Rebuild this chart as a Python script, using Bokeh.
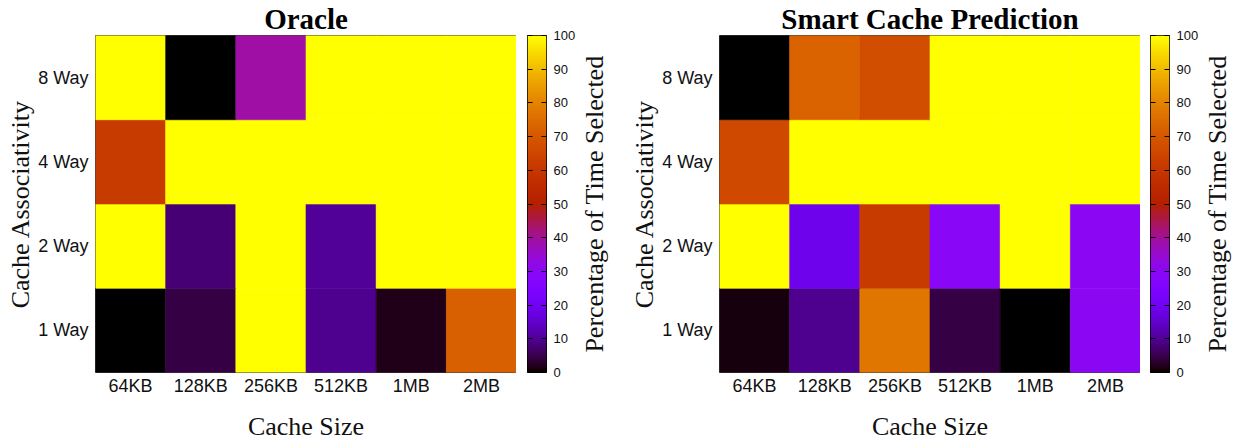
import numpy as np
from bokeh.plotting import figure
from bokeh.models import (FactorRange, Range1d, LinearColorMapper, FixedTicker,
                          LinearAxis, ColumnDataSource, Title)
from bokeh.layouts import row
from bokeh.embed import file_html
from bokeh.resources import INLINE

# ---------------- data ----------------
cache_sizes = ["64KB", "128KB", "256KB", "512KB", "1MB", "2MB"]
associativities = ["1 Way", "2 Way", "4 Way", "8 Way"]

oracle_1way = [0, 4.5, 100, 9.5, 1.8, 72]
oracle_2way = [100, 7.5, 100, 10.5, 100, 100]
oracle_4way = [61, 100, 100, 100, 100, 100]
oracle_8way = [100, 0, 39, 100, 100, 100]

smart_1way = [0.9, 9.5, 77, 4.5, 0, 30]
smart_2way = [100, 19, 61, 29, 100, 30]
smart_4way = [66, 100, 100, 100, 100, 100]
smart_8way = [0, 73, 67, 100, 100, 100]

colorbar_ticks = [0, 10, 20, 30, 40, 50, 60, 70, 80, 90, 100]

titles = ["Oracle", "Smart Cache Prediction"]
x_title = "Cache Size"
y_title = "Cache Associativity"
cb_title = "Percentage of Time Selected"

# ---------------- palette (gnuplot rgbformulae 7,5,15) ----------------
def gnuplot_hex(t):
    r = np.sqrt(t)
    g = t ** 3
    b = min(1.0, max(0.0, np.sin(2 * np.pi * t)))
    return "#%02x%02x%02x" % (int(round(r * 255)), int(round(g * 255)), int(round(b * 255)))

palette = [gnuplot_hex(i / 255) for i in range(256)]
mapper = LinearColorMapper(palette=palette, low=0, high=100)

SERIF = "Liberation Serif"
SANS = "Liberation Sans"
H = 443
TOP = 34
BOTTOM = 71
FRAME_W = 421
TXT = "#111111"


def heatmap(title, rows, left_border):
    xs, ys, vs = [], [], []
    for assoc, vals in zip(associativities, rows):
        for cs, v in zip(cache_sizes, vals):
            xs.append(cs)
            ys.append(assoc)
            vs.append(v)
    src = ColumnDataSource(dict(x=xs, y=ys, v=vs))
    p = figure(x_range=FactorRange(*cache_sizes), y_range=FactorRange(*associativities),
               width=left_border + FRAME_W, height=H,
               min_border_left=left_border, min_border_right=0,
               min_border_top=TOP, min_border_bottom=BOTTOM,
               output_backend="svg", toolbar_location=None, tools="")
    p.rect(x="x", y="y", width=1, height=1, source=src,
           fill_color={"field": "v", "transform": mapper},
           line_color={"field": "v", "transform": mapper}, line_width=0.6)
    p.grid.visible = False
    p.outline_line_color = "black"
    p.outline_line_alpha = 0.75
    p.outline_line_width = 1
    for ax in (p.xaxis[0], p.yaxis[0]):
        ax.axis_line_color = None
        ax.major_tick_line_color = None
        ax.minor_tick_line_color = None
        ax.major_tick_out = 0
        ax.major_tick_in = 0
        ax.major_label_text_font = SANS
        ax.major_label_text_font_size = "18px"
        ax.major_label_text_color = TXT
        ax.axis_label_text_font = SERIF
        ax.axis_label_text_font_size = "26px"
        ax.axis_label_text_font_style = "normal"
        ax.axis_label_text_color = TXT
    p.xaxis.axis_label = x_title
    p.xaxis.major_label_standoff = 3
    p.xaxis.axis_label_standoff = 13
    p.yaxis.axis_label = y_title
    p.yaxis.major_label_standoff = 7
    p.yaxis.axis_label_standoff = 0
    p.title = Title(text=title, align="center", text_font=SERIF,
                    text_font_size="29px", text_font_style="bold",
                    text_color="#000000", standoff=1)
    return p


def colorbar(left_border, right_border):
    p = figure(x_range=Range1d(0, 1), y_range=Range1d(0, 100),
               width=left_border + 21 + right_border, height=H,
               min_border_left=left_border, min_border_right=right_border,
               min_border_top=TOP, min_border_bottom=BOTTOM,
               x_axis_location=None, y_axis_location="right",
               output_backend="svg", toolbar_location=None, tools="")
    grad = np.linspace(0, 100, 256).reshape(256, 1)
    p.image(image=[grad], x=0, y=0, dw=1, dh=100, color_mapper=mapper)
    p.grid.visible = False
    p.outline_line_color = "black"
    p.outline_line_width = 1
    ax = p.yaxis[0]
    ax.ticker = FixedTicker(ticks=colorbar_ticks)
    ax.axis_line_color = None
    ax.major_tick_in = 5
    ax.major_tick_out = 0
    ax.major_tick_line_color = "black"
    ax.minor_tick_line_color = None
    ax.major_label_standoff = 7
    ax.major_label_text_font = SANS
    ax.major_label_text_font_size = "13px"
    ax.major_label_text_color = TXT
    lax = LinearAxis(ticker=FixedTicker(ticks=colorbar_ticks))
    lax.axis_line_color = None
    lax.major_tick_in = 5
    lax.major_tick_out = 0
    lax.major_tick_line_color = "black"
    lax.minor_tick_line_color = None
    lax.major_label_standoff = 0
    lax.major_label_text_font_size = "0px"
    lax.major_label_text_color = None
    p.add_layout(lax, "left")
    return p


def colorbar_title(left_border):
    p = figure(x_range=Range1d(0, 1), y_range=Range1d(0, 100),
               width=left_border + 1, height=H,
               min_border_left=left_border, min_border_right=0,
               min_border_top=TOP, min_border_bottom=BOTTOM,
               x_axis_location=None, y_axis_location="left",
               output_backend="svg", toolbar_location=None, tools="")
    p.grid.visible = False
    p.outline_line_color = None
    ax = p.yaxis[0]
    ax.ticker = FixedTicker(ticks=[])
    ax.axis_line_color = None
    ax.major_tick_line_color = None
    ax.minor_tick_line_color = None
    ax.major_tick_in = 0
    ax.major_tick_out = 0
    ax.major_label_standoff = 0
    ax.axis_label = cb_title
    ax.axis_label_standoff = 0
    ax.axis_label_text_font = SERIF
    ax.axis_label_text_font_size = "26px"
    ax.axis_label_text_font_style = "normal"
    ax.axis_label_text_color = TXT
    return p


a1 = heatmap(titles[0], [oracle_1way, oracle_2way, oracle_4way, oracle_8way], 95)
b1 = colorbar(11, 30)
c1 = colorbar_title(29)
a2 = heatmap(titles[1], [smart_1way, smart_2way, smart_4way, smart_8way], 111)
b2 = colorbar(10, 30)
c2 = colorbar_title(29)

layout = row(a1, b1, c1, a2, b2, c2, spacing=0)
open("out.html", "w").write(file_html(layout, INLINE))
